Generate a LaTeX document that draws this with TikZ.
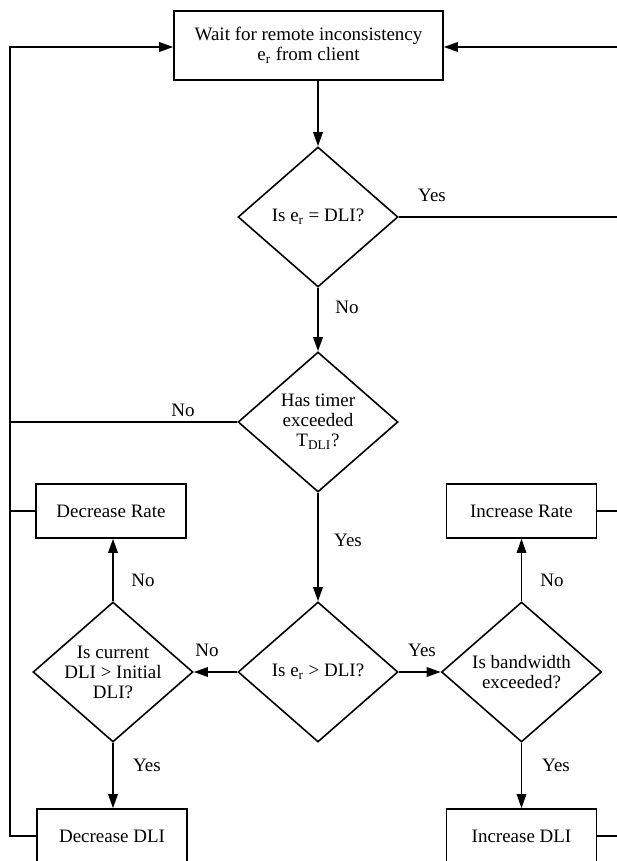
\documentclass[tikz,border=0pt]{standalone}
\usepackage{fontspec}
\setmainfont{Liberation Serif}
\usetikzlibrary{shapes.geometric,arrows.meta}

\begin{document}
\begin{tikzpicture}[x=0.02cm,y=-0.02cm,line width=0.9pt,
        every node/.style={font=\fontsize{10.8}{11.4}\selectfont},
        box/.style={rectangle,draw,line width=0.9pt,minimum width=3cm,minimum height=1.08cm,align=center},
        dia/.style={diamond,draw,line width=0.9pt,aspect=1.14,inner sep=0pt,minimum width=3.2cm,minimum height=2.8cm,align=center},
        lbl/.style={inner sep=0pt},
        arr/.style={-{Triangle[length=2.8mm,width=1.9mm]}}]
    \useasboundingbox (0,0) rectangle (616,861);
    \node[box,minimum width=5.38cm,minimum height=1.38cm] (wait) at (308.5,45.5) {Wait for remote inconsistency\\e\textsubscript{r} from client};
    \node[dia] (D1) at (318,217) {Is e\textsubscript{r} = DLI?};
    \node[dia] (D2) at (318,422) {Has timer\\exceeded\\T\textsubscript{DLI}?};
    \node[dia] (D3) at (318,672) {Is e\textsubscript{r} > DLI?};
    \node[dia] (DL) at (113,672) {Is current\\DLI > Initial\\DLI?};
    \node[dia] (DR) at (521.5,672) {Is bandwidth\\exceeded?};
    \node[box] (decrate) at (111,511) {Decrease Rate};
    \node[box] (incrate) at (521.5,511) {Increase Rate};
    \node[box] (decdli) at (112,836) {Decrease DLI};
    \node[box] (incdli) at (521.5,836) {Increase DLI};
    \coordinate (ltop) at (10,47);
    \coordinate (rtop) at (618,47);

    \node[lbl] (yes1) at (432,195) {Yes};
    \node[lbl] (no1) at (347,307) {No};
    \node[lbl] (no2) at (183,410) {No};
    \node[lbl] (yes2) at (348,540) {Yes};
    \node[lbl] (no3) at (207,650) {No};
    \node[lbl] (yes3) at (422,650) {Yes};
    \node[lbl] (no4) at (143,580) {No};
    \node[lbl] (no5) at (552,580) {No};
    \node[lbl] (yes4) at (147,765) {Yes};
    \node[lbl] (yes5) at (556,765) {Yes};

    % main column
    \draw[arr] (wait.south -| D1) -- (D1.north);
    \draw[arr] (D1.south) -- (D2.north);
    \draw[arr] (D2.south) -- (D3.north);
    \draw[arr] (D3.west) -- (DL.east);
    \draw[arr] (D3.east) -- (DR.west);
    \draw[arr] (DL.north) -- (DL.north |- decrate.south);
    \draw[arr] (DL.south) -- (DL.south |- decdli.north);
    \draw[arr] (DR.north) -- (DR.north |- incrate.south);
    \draw[arr] (DR.south) -- (DR.south |- incdli.north);

    % loop back on the left
    \draw[arr] (decdli.west) -| (ltop) -- (wait.west |- ltop);
    \draw (decrate.west) -- (decrate.west -| ltop);
    \draw (D2.west) -- (D2.west -| ltop);

    % loop back on the right
    \draw[arr] (incdli.east) -| (rtop) -- (wait.east |- rtop);
    \draw (incrate.east) -- (incrate.east -| rtop);
    \draw (D1.east) -- (D1.east -| rtop);
\end{tikzpicture}
\end{document}
